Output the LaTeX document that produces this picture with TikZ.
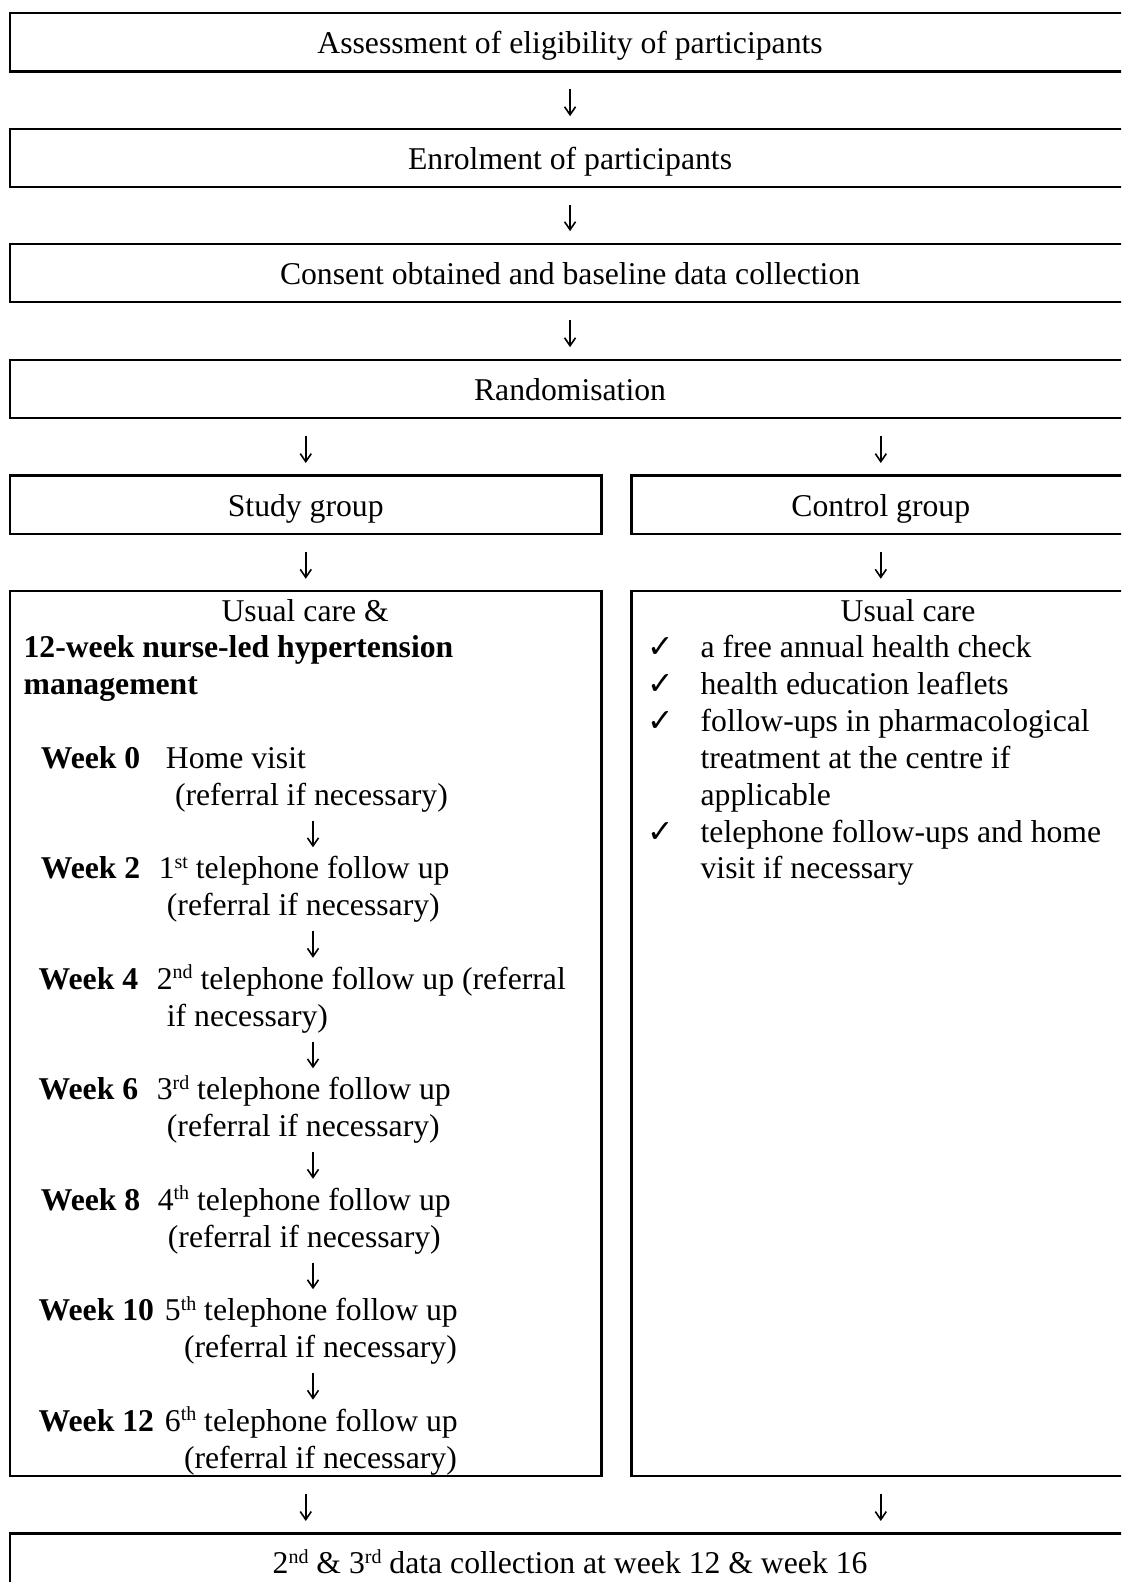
\documentclass[tikz,border=0pt]{standalone}
\usepackage{fontspec}
\setmainfont{Liberation Serif}
\newfontfamily\checkfont{DejaVu Sans}
\usetikzlibrary{arrows.meta}
\newcommand\supx[1]{\raisebox{5.3pt}{\fontsize{10pt}{10pt}\selectfont #1}}
\newcommand\ck{{\checkfont ✓}}
\begin{document}
\begin{tikzpicture}[x=0.5pt,y=-0.5pt,
  basefont/.style={font=\fontsize{15.85pt}{18.4pt}\selectfont, inner sep=0pt},
  box/.style={basefont, draw, line width=1.15pt, minimum height=29.25pt, text height=11.2pt, text depth=0pt},
  bigbox/.style={draw, line width=1.15pt, inner sep=0pt, minimum height=442.35pt},
  lbl/.style={basefont, anchor=base west},
  wk/.style={lbl, font=\fontsize{15.85pt}{18.4pt}\selectfont\bfseries},
  ctr/.style={basefont, anchor=base},
  tipline/.style={line width=0.8pt, -{Straight Barb[length=4pt,width=5.5pt]}},
  conn/.style={tipline, shorten <=8.3pt, shorten >=5.7pt},
  inarr/.style={inner sep=0pt, outer sep=0pt, minimum width=1pt, minimum height=13.3pt}]
\useasboundingbox (0,0) rectangle (1121,1582);
\clip (0,0) rectangle (1121,1582);

% main boxes
\node[box, minimum width=559.95pt] (b1) at (570.05,42.35) {Assessment of eligibility of participants};
\node[box, minimum width=559.95pt] (b2) at (570.05,157.95) {Enrolment of participants};
\node[box, minimum width=559.95pt] (b3) at (570.05,272.95) {Consent obtained and baseline data collection};
\node[box, minimum width=559.95pt] (b4) at (570.05,388.95) {Randomisation};
\node[box, minimum width=295.65pt] (sg) at (305.75,504.85) {Study group};
\node[box, minimum width=249.2pt] (cg) at (880.8,504.85) {Control group};
\node[bigbox, minimum width=295.65pt] (bl) at (305.75,1033.65) {};
\node[bigbox, minimum width=249.2pt] (br) at (880.8,1033.65) {};
\node[box, minimum width=559.95pt] (b5) at (570.05,1562.75) {2\supx{nd} \& 3\supx{rd} data collection at week 12 \& week 16};

% connectors
\draw[conn] (b1) -- (b2);
\draw[conn] (b2) -- (b3);
\draw[conn] (b3) -- (b4);
\draw[conn] (b4.south -| sg.north) -- (sg.north);
\draw[conn] (b4.south -| cg.north) -- (cg.north);
\draw[conn] (sg) -- (bl);
\draw[conn] (cg) -- (br);
\draw[conn] (bl.south) -- (bl.south |- b5.north);
\draw[conn] (br.south) -- (br.south |- b5.north);

% left box contents
\node[ctr] (uc1) at (305.2,621) {Usual care \&};
\node[wk] (t1) at (23.2,657.8) {12-week nurse-led hypertension};
\node[wk] (t2) at (23.2,694.7) {management};

\node[wk] (w0) at (40.4,768.3) {Week 0};
\node[lbl] (w0t) at (165.5,768.3) {Home visit};
\node[lbl] (w0r) at (174.6,805.2) {(referral if necessary)};
\node[inarr] (a1) at (313,834) {};

\node[wk] (w2) at (40.4,878.8) {Week 2};
\node[lbl] (w2t) at (158.4,878.8) {1\supx{st} telephone follow up};
\node[lbl] (w2r) at (166.5,915.6) {(referral if necessary)};
\node[inarr] (a2) at (313,944.5) {};

\node[wk] (w4) at (38.3,989.3) {Week 4};
\node[lbl] (w4t) at (156.4,989.3) {2\supx{nd} telephone follow up (referral};
\node[lbl] (w4r) at (166.5,1026.1) {if necessary)};
\node[inarr] (a3) at (313,1055) {};

\node[wk] (w6) at (38.3,1099.8) {Week 6};
\node[lbl] (w6t) at (156.4,1099.8) {3\supx{rd} telephone follow up};
\node[lbl] (w6r) at (166.5,1136.6) {(referral if necessary)};
\node[inarr] (a4) at (313,1165.5) {};

\node[wk] (w8) at (40.4,1210.3) {Week 8};
\node[lbl] (w8t) at (157.4,1210.3) {4\supx{th} telephone follow up};
\node[lbl] (w8r) at (167.5,1247.1) {(referral if necessary)};
\node[inarr] (a5) at (313,1275.9) {};

\node[wk] (w10) at (38.3,1320.8) {Week 10};
\node[lbl] (w10t) at (164.5,1320.8) {5\supx{th} telephone follow up};
\node[lbl] (w10r) at (183.6,1357.6) {(referral if necessary)};
\node[inarr] (a6) at (313,1386.4) {};

\node[wk] (w12) at (38.3,1431.3) {Week 12};
\node[lbl] (w12t) at (164.5,1431.3) {6\supx{th} telephone follow up};
\node[lbl] (w12r) at (183.6,1468.1) {(referral if necessary)};

\foreach \a in {a1,a2,a3,a4,a5,a6} \draw[tipline] (\a.north) -- (\a.south);

% right box contents
\node[ctr] (uc2) at (908,621) {Usual care};
\node[lbl] (k1) at (647,657.8) {\ck};
\node[lbl] (r1) at (700.2,657.8) {a free annual health check};
\node[lbl] (k2) at (647,694.7) {\ck};
\node[lbl] (r2) at (700.2,694.7) {health education leaflets};
\node[lbl] (k3) at (647,731.5) {\ck};
\node[lbl] (r3) at (700.2,731.5) {follow-ups in pharmacological};
\node[lbl] (r4) at (700.2,768.3) {treatment at the centre if};
\node[lbl] (r5) at (700.2,805.2) {applicable};
\node[lbl] (k4) at (647,842) {\ck};
\node[lbl] (r6) at (700.2,842) {telephone follow-ups and home};
\node[lbl] (r7) at (700.2,878.8) {visit if necessary};
\end{tikzpicture}
\end{document}
